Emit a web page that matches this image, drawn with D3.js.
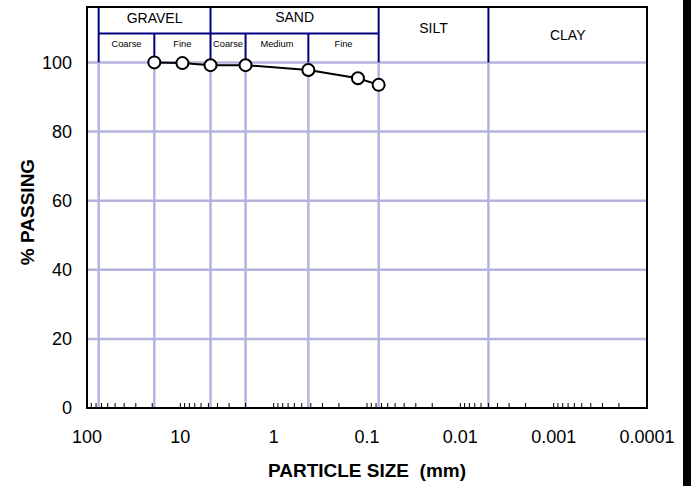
<!DOCTYPE html>
<html>
<head>
<meta charset="utf-8">
<script src="https://cdn.jsdelivr.net/npm/d3@7"></script>
<style>
  body { margin: 0; background: #fff; }
  text { font-family: "Liberation Sans", Arial, sans-serif; fill: #000; white-space: pre; }
</style>
</head>
<body>
<svg width="695" height="486"></svg>
<script>
// data ======================================================
var sizes   = [19, 9.5, 4.75, 2.0, 0.425, 0.125, 0.075];   // mm
var passing = [100, 99.8, 99.2, 99.2, 97.8, 95.4, 93.5];    // %

var xTicks = [100, 10, 1, 0.1, 0.01, 0.001, 0.0001];
var xTickLabels = ["100", "10", "1", "0.1", "0.01", "0.001", "0.0001"];
var yTicks = [0, 20, 40, 60, 80, 100];

// soil classes (boundaries in mm)
var mainBounds = [75, 4.75, 0.075, 0.005];
var subBounds  = [19, 2.0, 0.425];
var mainNames  = ["GRAVEL", "SAND", "SILT", "CLAY"];
var mainEdges  = [[75, 4.75], [4.75, 0.075], [0.075, 0.005], [0.005, 0.0001]];
var subNames   = ["Coarse", "Fine", "Coarse", "Medium", "Fine"];
var subEdges   = [[75, 19], [19, 4.75], [4.75, 2.0], [2.0, 0.425], [0.425, 0.075]];

// globals ===================================================
var svg = d3.select("svg");
var pLeft = 87, pRight = 647, pTop = 7, pBottom = 408, yTop = 62.4, split = 33.5;

var x = d3.scaleLog().domain([100, 0.0001]).range([pLeft, pRight]);
var y = d3.scaleLinear().domain([0, 100]).range([pBottom, yTop]);

var grid = "#b4b4de", navy = "#000080";

// black strip at the right edge of the picture
svg.append("rect").attr("x", 683).attr("y", 0).attr("width", 8).attr("height", 486).attr("fill", "#000");

// gridlines
svg.append("g").selectAll("line").data(yTicks.filter(function(d) { return d > 0; }))
  .enter().append("line")
  .attr("x1", pLeft).attr("x2", pRight)
  .attr("y1", function(d) { return y(d); }).attr("y2", function(d) { return y(d); })
  .attr("stroke", grid).attr("stroke-width", 2.5);

svg.append("g").selectAll("line").data(mainBounds.concat(subBounds))
  .enter().append("line")
  .attr("x1", function(d) { return x(d); }).attr("x2", function(d) { return x(d); })
  .attr("y1", yTop).attr("y2", pBottom)
  .attr("stroke", grid).attr("stroke-width", 2.5);

// header lines
var hdr = svg.append("g").attr("stroke", navy).attr("stroke-width", 2);
hdr.selectAll(".main").data(mainBounds).enter().append("line")
  .attr("x1", function(d) { return x(d); }).attr("x2", function(d) { return x(d); })
  .attr("y1", pTop).attr("y2", yTop);
hdr.selectAll(".sub").data(subBounds).enter().append("line")
  .attr("x1", function(d) { return x(d); }).attr("x2", function(d) { return x(d); })
  .attr("y1", split).attr("y2", yTop);
hdr.append("line").attr("x1", x(75)).attr("x2", x(0.075)).attr("y1", split).attr("y2", split);

// header labels
var mainY = [23, 22, 33, 40];
svg.append("g").selectAll("text").data(mainNames).enter().append("text")
  .attr("x", function(d, i) { return (x(mainEdges[i][0]) + x(mainEdges[i][1])) / 2; })
  .attr("y", function(d, i) { return mainY[i]; })
  .attr("text-anchor", "middle").style("font-size", "14px")
  .text(function(d) { return d; });

svg.append("g").selectAll("text").data(subNames).enter().append("text")
  .attr("x", function(d, i) { return (x(subEdges[i][0]) + x(subEdges[i][1])) / 2; })
  .attr("y", 47)
  .attr("text-anchor", "middle").style("font-size", "9.3px")
  .text(function(d) { return d; });

// x axis minor ticks
var minor = [];
for (var e = -4; e < 2; e++) {
  for (var k = 1; k < 10; k++) minor.push(k * Math.pow(10, e));
}
svg.append("g").selectAll("line").data(minor).enter().append("line")
  .attr("x1", function(d) { return x(d); }).attr("x2", function(d) { return x(d); })
  .attr("y1", pBottom).attr("y2", pBottom - 5)
  .attr("stroke", "#000").attr("stroke-width", 1);

// frame
svg.append("rect").attr("x", pLeft).attr("y", pTop)
  .attr("width", pRight - pLeft).attr("height", pBottom - pTop)
  .attr("fill", "none").attr("stroke", "#000").attr("stroke-width", 2);

// tick labels
svg.append("g").selectAll("text").data(xTicks).enter().append("text")
  .attr("x", function(d) { return x(d); }).attr("y", 443)
  .attr("text-anchor", "middle").style("font-size", "18px")
  .text(function(d, i) { return xTickLabels[i]; });

svg.append("g").selectAll("text").data(yTicks).enter().append("text")
  .attr("x", 72).attr("y", function(d) { return y(d); }).attr("dy", "0.36em")
  .attr("text-anchor", "end").style("font-size", "18px")
  .text(function(d) { return d; });

// axis titles
svg.append("text").attr("x", 367).attr("y", 477).attr("text-anchor", "middle")
  .style("font-size", "19px").style("font-weight", "bold")
  .text("PARTICLE SIZE  (mm)");
svg.append("text").attr("transform", "translate(34,212) rotate(-90)").attr("text-anchor", "middle")
  .style("font-size", "19px").style("font-weight", "bold")
  .text("% PASSING");

// gradation curve
var pts = sizes.map(function(s, i) { return [s, passing[i]]; });
svg.append("path").datum(pts)
  .attr("d", d3.line().x(function(d) { return x(d[0]); }).y(function(d) { return y(d[1]); }))
  .attr("fill", "none").attr("stroke", "#000").attr("stroke-width", 2);
svg.append("g").selectAll("circle").data(pts).enter().append("circle")
  .attr("cx", function(d) { return x(d[0]); }).attr("cy", function(d) { return y(d[1]); })
  .attr("r", 6).attr("fill", "#fff").attr("stroke", "#000").attr("stroke-width", 2);
</script>
</body>
</html>
